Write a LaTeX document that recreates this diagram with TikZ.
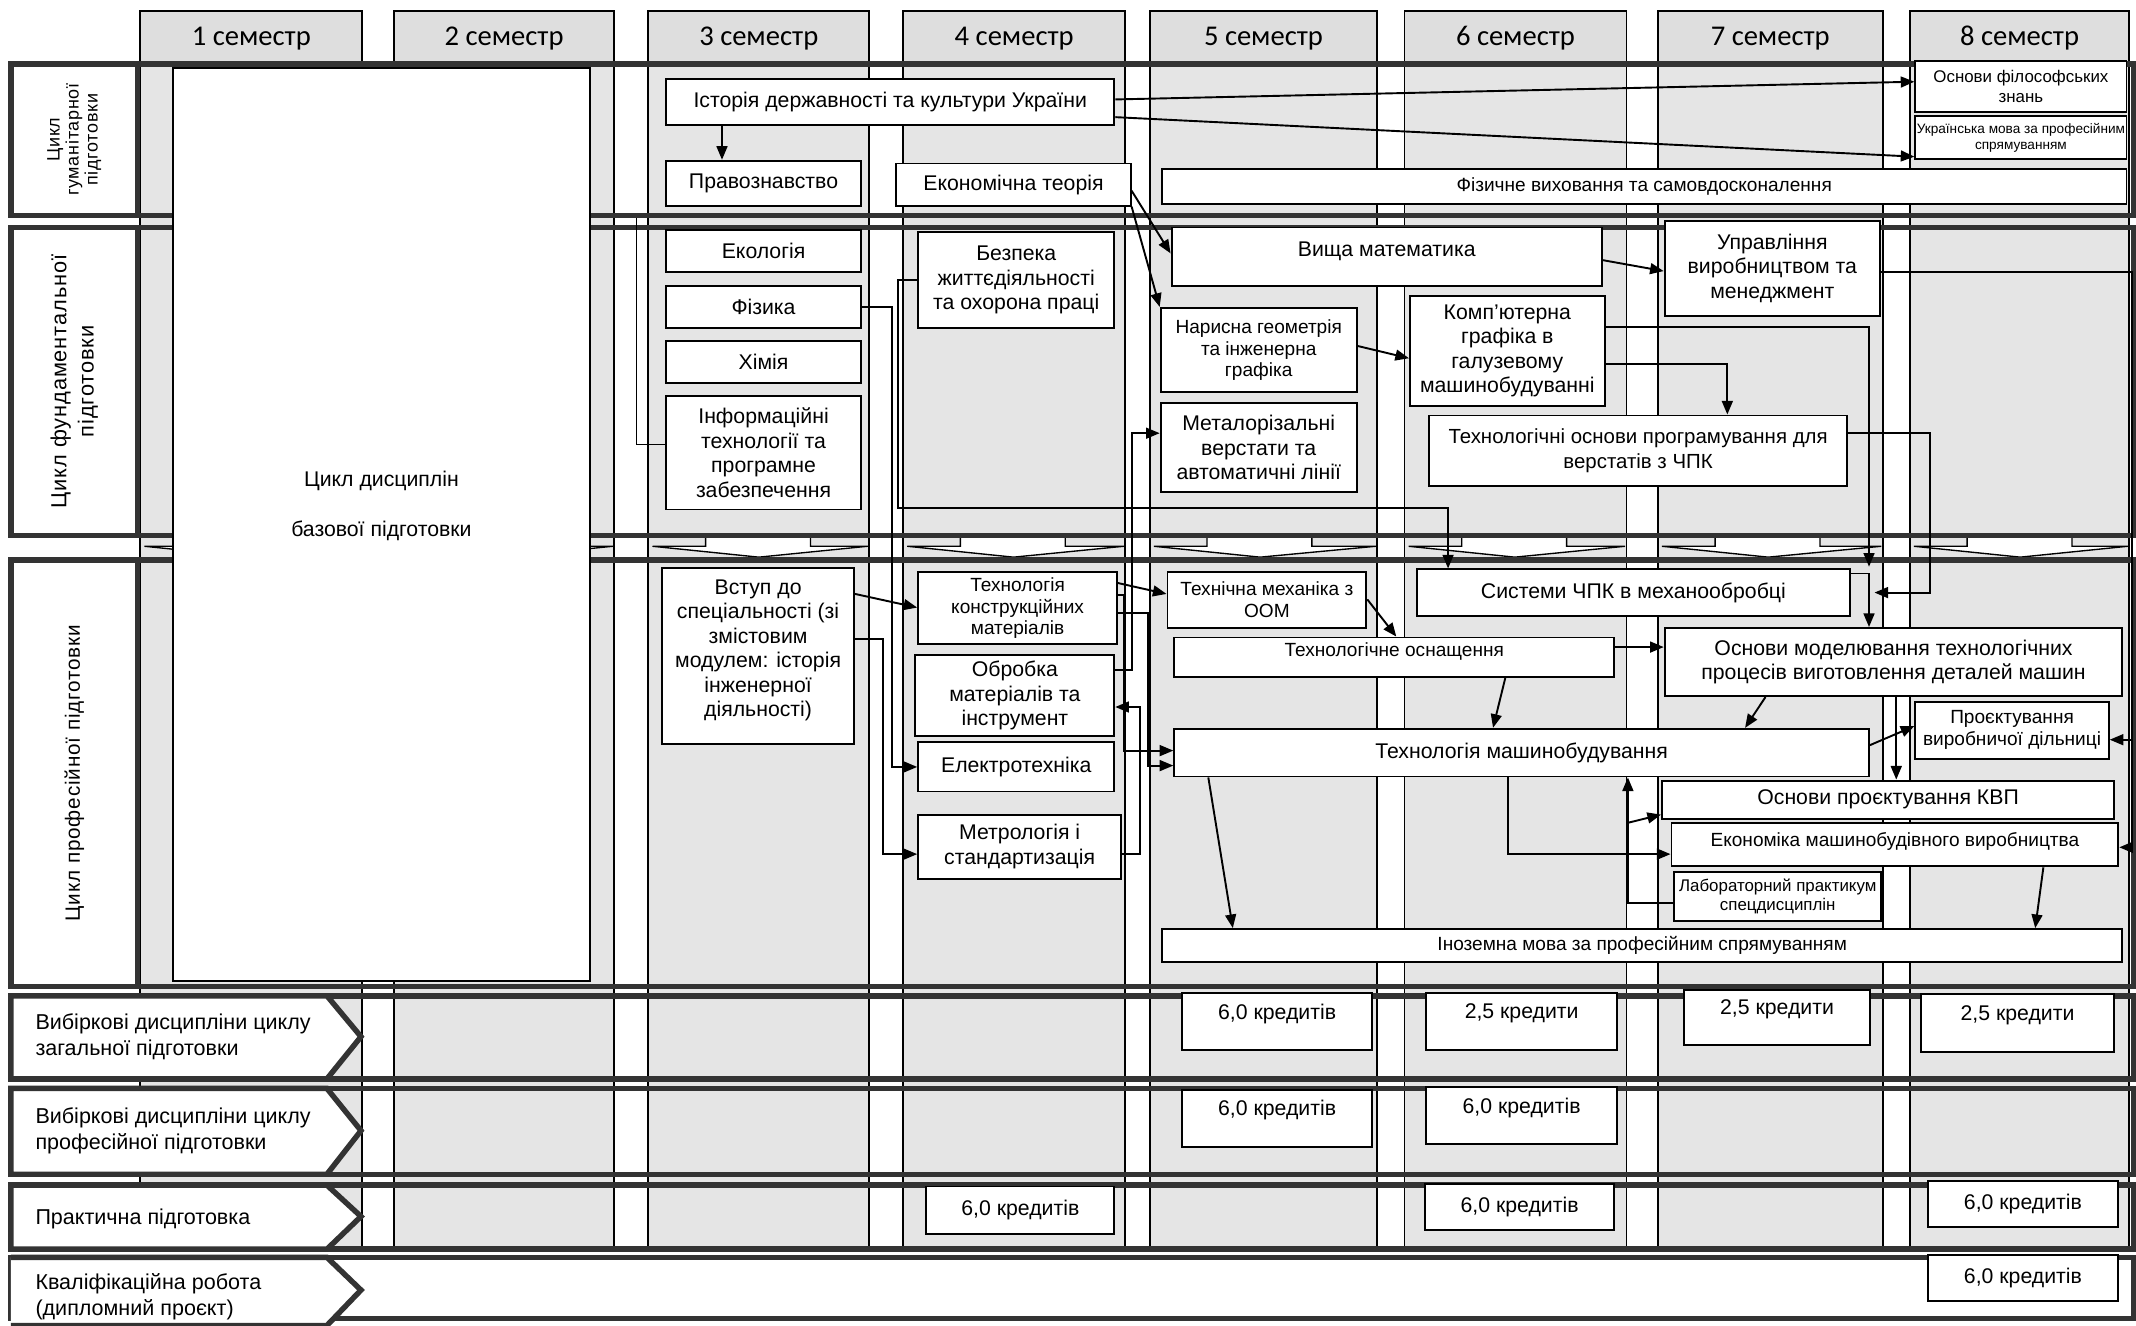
\documentclass[tikz,border=0pt]{standalone}
\usepackage{fontspec}
\setmainfont{Liberation Sans}
\newfontfamily\semfont{Carlito}
\newfontfamily\widefont{Liberation Sans}[LetterSpace=4]
\usetikzlibrary{arrows.meta}
\usetikzlibrary{fit}

\tikzset{
  f8/.style={font=\fontsize{7.8}{9}\selectfont},
  f75/.style={font=\fontsize{7.5}{9}\selectfont},
  f7/.style={font=\fontsize{7}{8}\selectfont},
  f6/.style={font=\fontsize{6.2}{7.2}\selectfont},
  f5/.style={font=\fontsize{5}{6}\selectfont},
  every label/.style={align=center, inner sep=0pt, f8},
  fach/.style={draw, fill=white, line width=0.7pt, inner sep=0pt},
  kredit/.style={fach},
  spalte/.style={draw, fill=gray!20, line width=0.7pt},
  kopf/.style={draw, fill=gray!26, line width=0.7pt},
  band/.style={draw=black!80, line width=2pt},
  zyklus/.style={draw=black!80, fill=white, line width=2pt},
  pfeil/.style={->, line width=0.7pt},
  >={Triangle[length=5pt,width=4pt]}
}

\begin{document}
\begin{tikzpicture}[x=0.5pt, y=-0.5pt]
\useasboundingbox (0,0) rectangle (1568,973);
\fill[white] (0,0) rectangle (1568,973);

% Spalten der Semester
\foreach \l/\r/\n in {103/266/1, 289/451/2, 476/638/3, 663/826/4, 844/1011/5, 1031/1194/6, 1217/1382/7, 1402/1563/8}{
  \draw[spalte] (\l,8) rectangle (\r,917);
  \draw[kopf] (\l,8) rectangle (\r,47);
  \node[font=\semfont\fontsize{10.5}{12}\selectfont] (sem\n) at ({(\l+\r)/2},28) {\n\ семестр};
  % Pfeil zwischen den Zyklen
  \draw[fill=white, line width=0.5pt] (\l+42,395) -- (\l+42,401) -- (\l+3,401) -- (\l+81,409) -- (\r-1,401) -- (\l+119,401) -- (\l+119,395);
}

% Zyklen
\draw[band] (8,47) rectangle (1566,158);
\draw[band] (8,167) rectangle (1566,393);
\draw[band] (8,411) rectangle (1566,724);
\draw[band] (8,731) rectangle (1566,792);
\draw[band] (8,799) rectangle (1566,862);
\draw[band] (8,870) rectangle (1566,917);
\draw[band, fill=white] (8,923) rectangle (1566,968);

\node[zyklus, inner sep=0pt, fit={(8,47)(101,158)}] (zhum) {};
\node[rotate=90, align=center, font=\widefont\fontsize{6.6}{7}\selectfont] (thum) at (zhum) {Цикл\\гуманітарної\\підготовки};
\node[zyklus, inner sep=0pt, fit={(8,167)(101,393)}] (zfund) {};
\node[rotate=90, align=center, font=\widefont\fontsize{8}{10}\selectfont] (tfund) at (zfund) {Цикл фундаментальної\\підготовки};
\node[zyklus, inner sep=0pt, fit={(8,411)(101,724)}] (zprof) {};
\node[rotate=90, align=center, font=\widefont\fontsize{7.6}{9}\selectfont] (tprof) at (zprof) {Цикл професійної підготовки};

\draw[zyklus] (8,731) -- (240,731) -- (265,761) -- (240,792) -- (8,792) -- cycle;
\node[anchor=west, align=left, font=\fontsize{7.9}{9.5}\selectfont] (vzag) at (19,761) {Вибіркові дисципліни циклу\\загальної підготовки};
\draw[zyklus] (8,799) -- (240,799) -- (265,830) -- (240,862) -- (8,862) -- cycle;
\node[anchor=west, align=left, font=\fontsize{7.9}{9.5}\selectfont] (vprof) at (19,830) {Вибіркові дисципліни циклу\\професійної підготовки};
\draw[zyklus] (8,870) -- (240,870) -- (265,893) -- (240,917) -- (8,917) -- cycle;
\node[anchor=west, font=\fontsize{7.9}{9.5}\selectfont] (prakt) at (19,895) {Практична підготовка};
\draw[zyklus] (8,923) -- (240,923) -- (265,947) -- (240,973) -- (8,973);
\node[anchor=west, align=left, font=\fontsize{7.9}{9.5}\selectfont] (kval) at (19,952) {Кваліфікаційна робота\\(дипломний проєкт)};

% Basis
\node[fach, fit={(127,50)(433,720)}] (bazova) {};
\node[f8] (bazt1) at (280,353) {Цикл дисциплін};
\node[f8] (bazt2) at (280,390) {базової підготовки};

% humanitaer
\node[fach, fit={(489,58)(818,92)}, label={center:Історія державності та культури України}] (istoria) {};
\node[fach, fit={(489,118)(632,151)}, label={center:Правознавство}] (pravo) {};
\node[fach, fit={(658,120)(830,151)}, label={center:Економічна теорія}] (ekteor) {};
\node[fach, fit={(853,124)(1561,150)}, label={[f7]center:Фізичне виховання та самовдосконалення}] (fizvyh) {};
\node[fach, fit={(1406,45)(1561,82)}, label={[f6]center:Основи філософських\\знань}] (filos) {};
\node[fach, fit={(1406,85)(1561,117)}, label={[f5]center:Українська мова за професійним\\спрямуванням}] (ukrmova) {};

% fundamental
\node[fach, fit={(489,169)(632,200)}, label={center:Екологія}] (ekol) {};
\node[fach, fit={(489,210)(632,241)}, label={center:Фізика}] (fiz) {};
\node[fach, fit={(489,250)(632,281)}, label={center:Хімія}] (khim) {};
\node[fach, fit={(489,291)(632,374)}, label={center:Інформаційні\\технології та\\програмне\\забезпечення}] (inform) {};
\node[fach, fit={(674,170)(818,241)}, label={center:Безпека\\життєдіяльності\\та охорона праці}] (bezp) {};
\node[fach, fit={(860,167)(1176,210)}, label={[yshift=2pt]center:Вища математика}] (vyshmat) {};
\node[fach, fit={(852,226)(996,288)}, label={[f7]center:Нарисна геометрія\\та інженерна\\графіка}] (naris) {};
\node[fach, fit={(1035,217)(1178,298)}, label={center:Комп’ютерна\\графіка в\\галузевому\\машинобудуванні}] (kompgraf) {};
\node[fach, fit={(1222,162)(1380,232)}, label={center:Управління\\виробництвом та\\менеджмент}] (upravl) {};
\node[fach, fit={(852,296)(996,361)}, label={center:Металорізальні\\верстати та\\автоматичні лінії}] (metal) {};
\node[fach, fit={(1049,305)(1356,357)}, label={[f75]center:Технологічні основи програмування для\\верстатів з ЧПК}] (tehosn) {};

% professionell
\node[fach, fit={(486,417)(627,546)}, label={[yshift=2pt]center:Вступ до\\спеціальності (зі\\змістовим\\модулем: історія\\інженерної\\діяльності)}] (vstup) {};
\node[fach, fit={(674,420)(820,473)}, label={[f7]center:Технологія\\конструкційних\\матеріалів}] (tkm) {};
\node[fach, fit={(672,481)(818,540)}, label={center:Обробка\\матеріалів та\\інструмент}] (obrob) {};
\node[fach, fit={(674,545)(818,581)}, label={center:Електротехніка}] (elektro) {};
\node[fach, fit={(674,598)(823,645)}, label={center:Метрологія і\\стандартизація}] (metrol) {};
\node[fach, fit={(857,420)(1003,461)}, label={[f7]center:Технічна механіка з\\ООМ}] (tehmeh) {};
\node[fach, fit={(1040,418)(1358,452)}, label={center:Системи ЧПК в механообробці}] (chpk) {};
\node[fach, fit={(862,468)(1185,497)}, label={[f7,yshift=2pt]center:Технологічне оснащення}] (osnasch) {};
\node[fach, fit={(1222,461)(1558,511)}, label={center:Основи моделювання технологічних\\процесів виготовлення деталей машин}] (modelyuv) {};
\node[fach, fit={(862,535)(1372,570)}, label={center:Технологія машинобудування}] (tehmash) {};
\node[fach, fit={(1406,515)(1548,557)}, label={[f7]center:Проєктування\\виробничої дільниці}] (proekt) {};
\node[fach, fit={(1220,573)(1552,601)}, label={center:Основи проєктування КВП}] (kvp) {};
\node[fach, fit={(1227,604)(1555,636)}, label={[f7,yshift=1pt]center:Економіка машинобудівного виробництва}] (ekonom) {};
\node[fach, fit={(1229,640)(1381,676)}, label={[f6]center:Лабораторний практикум\\спецдисциплін}] (labor) {};
\node[fach, fit={(853,682)(1558,706)}, label={[f7]center:Іноземна мова за професійним спрямуванням}] (inozem) {};

% Kredite
\node[kredit, fit={(868,729)(1007,771)}, label={[yshift=3pt]center:{6,0 кредитів}}] (k51) {};
\node[kredit, fit={(1047,729)(1187,771)}, label={[yshift=3pt]center:{2,5 кредити}}] (k61) {};
\node[kredit, fit={(1236,727)(1373,767)}, label={[yshift=3pt]center:{2,5 кредити}}] (k71) {};
\node[kredit, fit={(1410,730)(1552,772)}, label={[yshift=3pt]center:{2,5 кредити}}] (k81) {};
\node[kredit, fit={(868,800)(1007,842)}, label={[yshift=3pt]center:{6,0 кредитів}}] (k52) {};
\node[kredit, fit={(1047,798)(1187,840)}, label={[yshift=3pt]center:{6,0 кредитів}}] (k62) {};
\node[kredit, fit={(680,871)(818,906)}, label={center:{6,0 кредитів}}] (k43) {};
\node[kredit, fit={(1046,869)(1185,903)}, label={center:{6,0 кредитів}}] (k63) {};
\node[kredit, fit={(1415,867)(1555,901)}, label={center:{6,0 кредитів}}] (k83) {};
\node[kredit, fit={(1415,921)(1555,955)}, label={center:{6,0 кредитів}}] (k84) {};

% Verbindungen
\coordinate (infozu) at (467,160);
\coordinate (chpkzu) at (1372,416);
\coordinate (rand) at (1565,200);
\coordinate (abzw) at (1195,604);

\draw[pfeil] (istoria.south -| 530,0) -- (pravo.north -| 530,0);
\draw[pfeil] (istoria.east |- 0,73) -- (filos.west |- 0,60);
\draw[pfeil] (istoria.east |- 0,86) -- (ukrmova.west |- 0,115);
\draw[pfeil] (ekteor.east |- 0,140) -- (vyshmat.west |- 0,186);
\draw[pfeil] (ekteor.south east) -- (naris.north west);
\draw[pfeil] (vyshmat.east |- 0,191) -- (upravl.west |- 0,199);
\draw[pfeil] (naris.east |- 0,254) -- (kompgraf.west |- 0,263);
\draw[pfeil] (kompgraf.east |- 0,267) -| (tehosn.north -| 1268,0);
\draw[pfeil] (kompgraf.east |- 0,240) -| (chpkzu);
\draw[pfeil] (chpk.east |- 0,421) -| (modelyuv.north -| 1372,0);
\draw[pfeil] (tehosn.east |- 0,318) -| (chpk.east -| 1417,0) -- (chpk.east -| 1376,0);
\draw[pfeil] (upravl.east |- rand) -- (rand) |- (ekonom.east |- 0,622);
\draw[pfeil] (rand |- 0,543) -- (proekt.east |- 0,543);

\draw[pfeil] (fiz.east) -- (fiz.east -| 655,0) |- (elektro.west);
\draw[pfeil] (bezp.west) -- (bezp.west -| 659,0) |- (1063,373) -- (chpk.north -| 1063,0);
\draw (inform.west |- 0,326) -| (infozu);

\draw[pfeil] (vstup.east |- 0,436) -- (tkm.west |- 0,446);
\draw[pfeil] (vstup.east |- 0,469) -- (648,469) |- (metrol.west |- 0,627);
\draw[pfeil] (tkm.east |- 0,428) -- (tehmeh.west |- 0,436);
\draw[pfeil] (tkm.east |- 0,437) -- (825,437) |- (tehmash.west |- 0,551);
\draw[pfeil] (tkm.east |- 0,450) -- (843,450) |- (tehmash.west |- 0,562);
\draw[pfeil] (obrob.east |- 0,492) -- (831,492) |- (metal.west |- 0,318);
\draw[pfeil] (metrol.east |- 0,627) -- (837,627) |- (obrob.east |- 0,519);

\draw[pfeil] (tehmeh.east |- 0,440) -- (osnasch.north -| 1025,0);
\draw[pfeil] (osnasch.east |- 0,475) -- (modelyuv.west |- 0,475);
\draw[pfeil] (osnasch.south -| 1105,0) -- (tehmash.north -| 1096,0);
\draw[pfeil] (modelyuv.south -| 1296,0) -- (tehmash.north -| 1281,0);
\draw[pfeil] (tehmash.east |- 0,547) -- (proekt.west |- 0,533);
\draw[pfeil] (modelyuv.south -| 1392,0) -- (kvp.north -| 1392,0);
\draw[pfeil] (tehmash.south -| 887,0) -- (inozem.north -| 905,0);
\draw[pfeil] (tehmash.south -| 1107,0) |- (ekonom.west |- 0,627);
\draw[pfeil] (labor.west |- 0,663) -| (tehmash.south -| 1195,0);
\draw[pfeil] (abzw) -- (kvp.west |- 0,598);
\draw[pfeil] (ekonom.south -| 1500,0) -- (inozem.north -| 1494,0);
\end{tikzpicture}
\end{document}
